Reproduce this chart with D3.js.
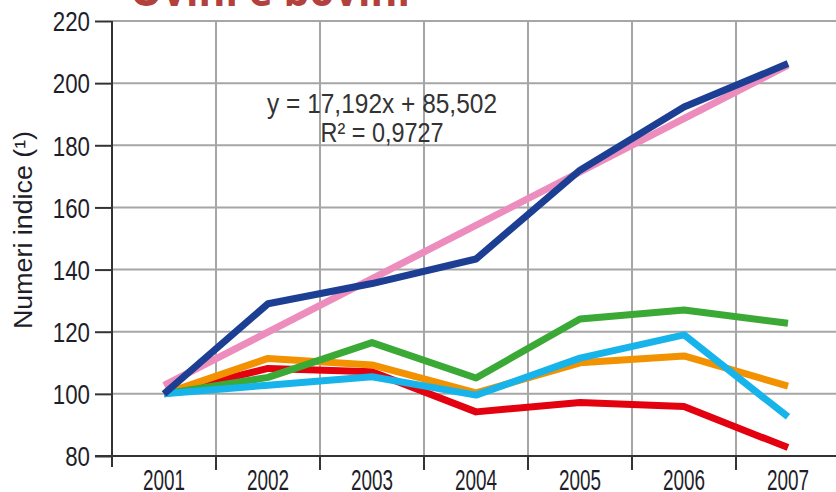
<!DOCTYPE html>
<html><head><meta charset="utf-8">
<script src="https://cdn.jsdelivr.net/npm/d3@7"></script>
<style>body{margin:0;background:#fff}svg{display:block}</style>
</head><body>
<svg id="c" width="836" height="492"></svg>
<script>
const years = [2001, 2002, 2003, 2004, 2005, 2006, 2007];
const yTicks = [80, 100, 120, 140, 160, 180, 200, 220];
const seriesRed = [100, 108.2, 107.1, 94.2, 97.2, 95.9, 82.7];
const seriesOrange = [100, 111.4, 109.3, 100.3, 110, 112.2, 102.5];
const seriesGreen = [100, 105.3, 116.5, 105.1, 124.1, 127, 122.7];
const seriesCyan = [100, 102.8, 105.5, 99.6, 111.5, 119, 92.6];
const seriesBlue = [100, 129, 135.5, 143.4, 172, 192.3, 206.3];
const trendYears = [2001, 2007];
const trendValues = [102.7, 205.8];
const equation = ["y = 17,192x + 85,502", "R² = 0,9727"];
const yTitle = "Numeri indice (¹)";
const colors = {red:"#e3000f", orange:"#f39200", green:"#3aa935", cyan:"#16b4ea", pink:"#ec8dbd", blue:"#1d3f93"};

const svg = d3.select("#c");
const font = "'Liberation Sans', Arial, sans-serif";
const x = d3.scaleLinear().domain([2000.5, 2007.5]).range([112, 840]);
const y = d3.scaleLinear().domain([80, 220]).range([456, 21]);
const textCol = "#1e1e2a";

// title fragment (cut off at top)
svg.append("text").attr("x", 130).attr("y", 6).attr("fill", "#b2403c")
  .attr("font-family", "'Open Sans', sans-serif").attr("font-weight", "bold")
  .attr("font-size", 44).attr("textLength", 280).attr("lengthAdjust", "spacingAndGlyphs")
  .text("Ovini e bovini");

// grid
const bounds = d3.range(2001.5, 2008, 1);
svg.append("g").selectAll("line").data(yTicks.filter(d => d > 80)).join("line")
  .attr("x1", 112).attr("x2", 836).attr("y1", d => y(d)).attr("y2", d => y(d))
  .attr("stroke", "#a6a6a6").attr("stroke-width", 2);
svg.append("g").selectAll("line").data(bounds).join("line")
  .attr("x1", d => x(d)).attr("x2", d => x(d)).attr("y1", y(220)).attr("y2", y(80))
  .attr("stroke", "#a6a6a6").attr("stroke-width", 2);

// y axis
const yAxis = svg.append("g").attr("transform", "translate(112,0)")
  .call(d3.axisLeft(y).tickValues(yTicks).tickSize(17).tickPadding(5).tickFormat(d3.format("d")));
yAxis.select(".domain").remove();
yAxis.selectAll(".tick line").attr("stroke", "#333").attr("stroke-width", 2);
yAxis.selectAll("text").attr("font-family", font).attr("font-size", 28).attr("fill", textCol)
  .attr("dy", "0.35em")
  .attr("textLength", d => String(d).length * 12.4).attr("lengthAdjust", "spacingAndGlyphs");
svg.append("line").attr("x1", 112).attr("x2", 112).attr("y1", y(220)).attr("y2", 467)
  .attr("stroke", "#333").attr("stroke-width", 2);

// x axis
svg.append("line").attr("x1", 95).attr("x2", 836).attr("y1", y(80)).attr("y2", y(80))
  .attr("stroke", "#333").attr("stroke-width", 2);
svg.append("g").selectAll("line").data(bounds).join("line")
  .attr("x1", d => x(d)).attr("x2", d => x(d)).attr("y1", y(80)).attr("y2", 470)
  .attr("stroke", "#333").attr("stroke-width", 2);
svg.append("g").selectAll("text").data(years).join("text")
  .attr("x", d => x(d)).attr("y", 490).attr("text-anchor", "middle")
  .attr("font-family", font).attr("font-size", 29).attr("fill", textCol)
  .attr("textLength", 42).attr("lengthAdjust", "spacingAndGlyphs")
  .text(d => d);

// y title
svg.append("text").attr("transform", "translate(32,230) rotate(-90)")
  .attr("text-anchor", "middle").attr("font-family", font).attr("font-size", 25).attr("fill", textCol)
  .attr("textLength", 198).attr("lengthAdjust", "spacingAndGlyphs")
  .text(yTitle);

// lines
const draw = (vals, col, xs) => svg.append("path")
  .attr("d", d3.line().x((d, i) => x(xs[i])).y(d => y(d))(vals))
  .attr("fill", "none").attr("stroke", col).attr("stroke-width", 7).attr("stroke-linejoin", "round");
draw(seriesRed, colors.red, years);
draw(seriesOrange, colors.orange, years);
draw(seriesGreen, colors.green, years);
draw(seriesCyan, colors.cyan, years);
draw(trendValues, colors.pink, trendYears);
draw(seriesBlue, colors.blue, years);

// equation
svg.append("g").selectAll("text").data(equation).join("text")
  .attr("x", 382).attr("y", (d, i) => 113 + i * 29).attr("text-anchor", "middle")
  .attr("font-family", font).attr("font-size", 27).attr("fill", "#333")
  .attr("textLength", (d, i) => i === 0 ? 230 : 123).attr("lengthAdjust", "spacingAndGlyphs")
  .text(d => d);
</script>
</body></html>
